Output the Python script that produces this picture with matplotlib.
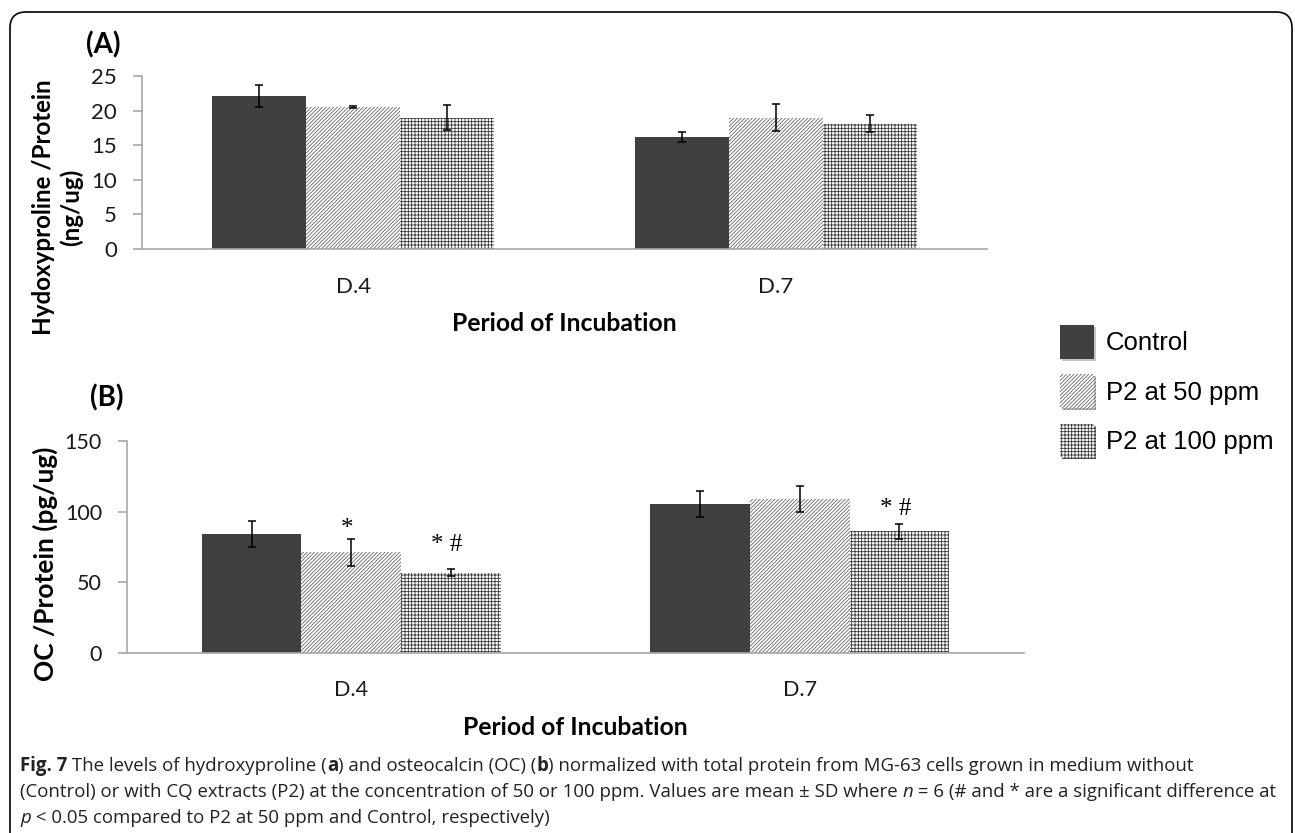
import numpy as np
import matplotlib.pyplot as plt
import matplotlib.patheffects as pe
from matplotlib.patches import FancyBboxPatch

days = ['D.4', 'D.7']
groups = ['Control', 'P2 at 50 ppm', 'P2 at 100 ppm']

# hydroxyproline / protein (ng/ug), one row per group
hyp_mean = [[22.1, 16.2], [20.5, 19.0], [19.0, 18.1]]
hyp_sd = [[1.6, 0.7], [0.1, 2.0], [1.8, 1.2]]

# osteocalcin / protein (pg/ug)
oc_mean = [[84.2, 105.5], [71.3, 109.0], [57.0, 86.0]]
oc_sd = [[9.2, 9.3], [9.6, 9.0], [2.3, 5.2]]

# significance marks on panel B: (day index, group index, text)
oc_marks = [(0, 1, '*'), (0, 2, '* #'), (1, 2, '* #')]

W, H = 1295, 833
plt.rcParams['hatch.linewidth'] = 0.6
fig = plt.figure(figsize=(W / 100, H / 100), dpi=100)

bar_style = [
    dict(facecolor='#404040', edgecolor='#404040', hatch=None),
    dict(facecolor='white', edgecolor='#666666', hatch='/' * 9),
    dict(facecolor='white', edgecolor='#3a3a3a', hatch='+' * 5),
]
axis_grey = '#a8a8a8'
chart_font = 'Lato'


def px_axes(l, r, t, b):
    return fig.add_axes([l / W, 1 - b / H, (r - l) / W, (b - t) / H])


def draw_panel(ax, means, sds, top, step, tick_fs, xtick_fs, xpad):
    x = np.arange(len(days))
    w = 1 / 4.5
    bars = []
    for i in range(len(groups)):
        b = ax.bar(x + (i - 1) * w, means[i], w, yerr=sds[i], linewidth=0,
                   label=groups[i],
                   error_kw=dict(ecolor='black', elinewidth=1.1, capsize=3, capthick=1.1),
                   **bar_style[i])
        bars.append(b)
    ax.set_xlim(-0.5, 1.5)
    ax.set_ylim(0, top)
    ax.set_yticks(np.arange(0, top + 1, step))
    ax.set_xticks(x)
    ax.set_xticklabels(days, fontsize=xtick_fs, family=chart_font)
    for lab in ax.get_yticklabels():
        lab.set_fontsize(tick_fs)
        lab.set_family(chart_font)
    for s in ['top', 'right']:
        ax.spines[s].set_visible(False)
    for s in ['left', 'bottom']:
        ax.spines[s].set_color(axis_grey)
        ax.spines[s].set_linewidth(1.2)
    ax.tick_params(axis='y', direction='out', length=6.5, width=1.2, color=axis_grey,
                   pad=11.5, labelcolor='#1a1a1a')
    ax.tick_params(axis='x', length=0, pad=xpad, labelcolor='#1a1a1a')
    return bars


# panel A
axA = px_axes(142, 987, 76, 249)
barsA = draw_panel(axA, hyp_mean, hyp_sd, 25, 5, 16, 16, 20)
axA.set_ylabel('Hydoxyproline /Protein\n(ng/ug)', fontsize=17.4, weight='bold',
               family=chart_font, linespacing=1.2)
axA.yaxis.set_label_coords(-0.1, 0.243)
axA.yaxis.label.set_va('center')
axA.set_xlabel('Period of Incubation', fontsize=17.8, weight='bold', family=chart_font)
axA.xaxis.set_label_coords(0.5, -0.428)
axA.xaxis.label.set_va('center')

# panel B
axB = px_axes(127, 1024, 440.7, 653.3)
barsB = draw_panel(axB, oc_mean, oc_sd, 150, 50, 15.5, 15.5, 19)
axB.set_ylabel('OC /Protein (pg/ug)', fontsize=18.9, weight='bold', family=chart_font)
axB.yaxis.set_label_coords(-0.0914, 0.42)
axB.yaxis.label.set_va('center')
axB.set_xlabel('Period of Incubation', fontsize=17.8, weight='bold', family=chart_font)
axB.xaxis.set_label_coords(0.5, -0.351)
axB.xaxis.label.set_va('center')

mark_lift = [2.6, 13.4, 6.5]
for (d, g, txt), lift in zip(oc_marks, mark_lift):
    rect = barsB[g].patches[d]
    xc = rect.get_x() + rect.get_width() / 2
    axB.annotate(txt, (xc, oc_mean[g][d] + oc_sd[g][d]), xytext=(-3, lift),
                 textcoords='offset points', ha='center', va='baseline',
                 fontsize=18, family='Liberation Serif')

fig.text(103.5 / W, 1 - 45 / H, '(A)', fontsize=20, weight='bold', family=chart_font,
         ha='center', va='center')
fig.text(106.5 / W, 1 - 398 / H, '(B)', fontsize=20, weight='bold', family=chart_font,
         ha='center', va='center')

leg = fig.legend(barsA, groups, loc='upper left', bbox_to_anchor=(1060 / W, 1 - 325 / H),
                 frameon=False, borderpad=0, borderaxespad=0, handlelength=1.32,
                 handleheight=1.65, handletextpad=0.47, labelspacing=0.6,
                 prop=dict(family='Liberation Sans', size=18.5))
for p in leg.get_patches():
    p.set_path_effects([pe.SimplePatchShadow(offset=(1.5, -1.5), shadow_rgbFace='0.55',
                                             alpha=0.5), pe.Normal()])

# outer rounded frame, bottom edge runs off the canvas
frame = FancyBboxPatch((0.10, -0.3), 12.82, 8.21 + 0.3,
                       boxstyle='round,pad=0,rounding_size=0.16',
                       transform=fig.dpi_scale_trans, facecolor='none',
                       edgecolor='black', linewidth=1.2, clip_on=False)
fig.add_artist(frame)

# caption with mixed bold / italic runs
cap_font = 'Open Sans'
cap_fs = 13.4
renderer = fig.canvas.get_renderer()


def run_width(s, weight, style):
    a = fig.text(0, 0, s + '|', fontsize=cap_fs, family=cap_font, weight=weight, style=style)
    b = fig.text(0, 0, '|', fontsize=cap_fs, family=cap_font, weight=weight, style=style)
    w = a.get_window_extent(renderer).width - b.get_window_extent(renderer).width
    a.remove()
    b.remove()
    return w


def caption_line(x0, base, parts):
    x = x0
    for s, weight, style in parts:
        fig.text(x / W, 1 - base / H, s, fontsize=cap_fs, family=cap_font, weight=weight,
                 style=style, va='baseline', ha='left', color='#222222')
        x += run_width(s, weight, style)


N, B, I = 'normal', 'bold', 'italic'
caption_line(20, 771, [('Fig. 7', B, N),
                       (' The levels of hydroxyproline (', N, N), ('a', B, N),
                       (') and osteocalcin (OC) (', N, N), ('b', B, N),
                       (') normalized with total protein from MG-63 cells grown in medium without', N, N)])
caption_line(20, 797, [('(Control) or with CQ extracts (P2) at the concentration of 50 or 100 ppm. '
                        'Values are mean \u00b1 SD where ', N, N), ('n', N, I),
                       (' = 6 (# and * are a significant difference at', N, N)])
caption_line(20, 823, [('p', N, I), (' < 0.05 compared to P2 at 50 ppm and Control, respectively)', N, N)])

fig.savefig('out.png', dpi=100)
